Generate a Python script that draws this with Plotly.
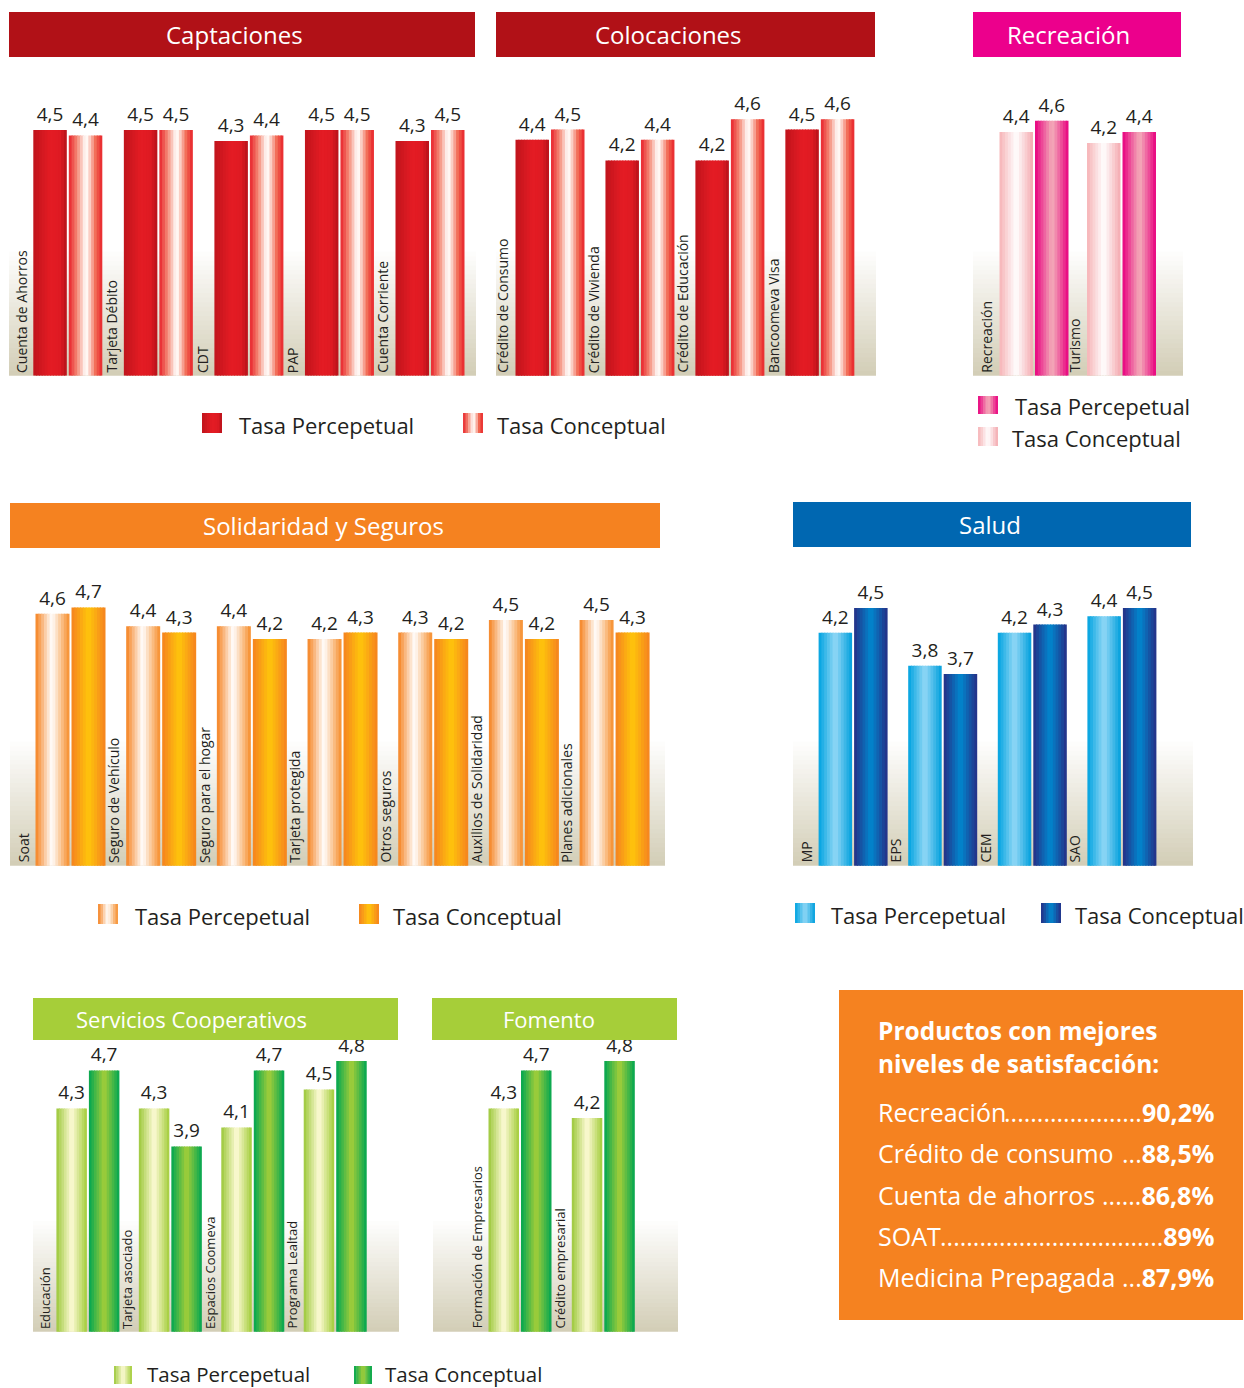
import plotly.graph_objects as go

W, H = 1244, 1388
FONT = "Open Sans"

# ---------------- data ----------------
capt_cats = ["Cuenta de Ahorros", "Tarjeta Débito", "CDT", "PAP", "Cuenta Corriente"]
capt_perc = [4.5, 4.5, 4.3, 4.5, 4.3]
capt_conc = [4.4, 4.5, 4.4, 4.5, 4.5]

coloc_cats = ["Crédito de Consumo", "Crédito de Vivienda", "Crédito de Educación", "Bancoomeva Visa"]
coloc_perc = [4.4, 4.2, 4.2, 4.5]
coloc_conc = [4.5, 4.4, 4.6, 4.6]

recre_cats = ["Recreación", "Turismo"]
recre_conc = [4.4, 4.2]
recre_perc = [4.6, 4.4]

solid_cats = ["Soat", "Seguro de Vehículo", "Seguro para el hogar", "Tarjeta protegida",
              "Otros seguros", "Auxilios de Solidaridad", "Planes adicionales"]
solid_perc = [4.6, 4.4, 4.4, 4.2, 4.3, 4.5, 4.5]
solid_conc = [4.7, 4.3, 4.2, 4.3, 4.2, 4.2, 4.3]

salud_cats = ["MP", "EPS", "CEM", "SAO"]
salud_perc = [4.2, 3.8, 4.2, 4.4]
salud_conc = [4.5, 3.7, 4.3, 4.5]

serv_cats = ["Educación", "Tarjeta asociado", "Espacios Coomeva", "Programa Lealtad"]
serv_perc = [4.3, 4.3, 4.1, 4.5]
serv_conc = [4.7, 3.9, 4.7, 4.8]

fom_cats = ["Formación de Empresarios", "Crédito empresarial"]
fom_perc = [4.3, 4.2]
fom_conc = [4.7, 4.8]

legend_perc = "Tasa Percepetual"
legend_conc = "Tasa Conceptual"

box_title = ["Productos con mejores", "niveles de satisfacción:"]
box_items = ["Recreación", "Crédito de consumo", "Cuenta de ahorros", "SOAT", "Medicina Prepagada"]
box_values = ["90,2%", "88,5%", "86,8%", "89%", "87,9%"]

# ---------------- styles ----------------
RED_SOLID = [(0, '#C0141C'), (0.5, '#E41C24'), (0.8, '#DE1A22'), (1, '#B5121B')]
RED_WHITE = [(0, '#E8222A'), (0.25, '#F48A76'), (0.5, '#FFFFFF'), (0.56, '#FFF3EE'), (0.8, '#F26A54'), (1, '#E8222A')]
MAGENTA = [(0, '#E8007F'), (0.45, '#F29CB3'), (0.55, '#F3A4B6'), (1, '#E8007F')]
PINK_LIGHT = [(0, '#F6B3B6'), (0.5, '#FFFFFF'), (1, '#F4A9AF')]
ORANGE_WHITE = [(0, '#F58220'), (0.48, '#FFFFFF'), (1, '#F68D2A')]
ORANGE_YELLOW = [(0, '#F58220'), (0.5, '#FFC60B'), (1, '#F58220')]
BLUE_LIGHT = [(0, '#00A3E0'), (0.5, '#92D8F6'), (1, '#009FDD')]
BLUE_DARK = [(0, '#262E86'), (0.5, '#0089CF'), (1, '#262E86')]
GREEN_LIGHT = [(0, '#9CC83A'), (0.5, '#FFFBD8'), (1, '#A2CC39')]
GREEN_DARK = [(0, '#00A651'), (0.5, '#A6CE39'), (1, '#00A651')]
BEIGE = '#D3CEB7'
TXT = '#231F20'


def hex2rgb(h):
    h = h.lstrip('#')
    return tuple(int(h[i:i + 2], 16) for i in (0, 2, 4))


def lerp(c0, c1, u):
    a, b = hex2rgb(c0), hex2rgb(c1)
    return 'rgb(%d,%d,%d)' % tuple(round(a[i] + (b[i] - a[i]) * u) for i in range(3))


def sample(stops, t):
    for (t0, c0), (t1, c1) in zip(stops, stops[1:]):
        if t <= t1:
            u = 0 if t1 == t0 else (t - t0) / (t1 - t0)
            return lerp(c0, c1, u)
    return lerp(stops[-1][1], stops[-1][1], 0)


panels = [
    dict(title="Captaciones", tcolor="#B11117", tb=(9, 12, 475, 57), tx=234, tsize=24,
         area=(9, 85, 476, 375.7), gtop=247, c0=67.8, d=90.55, w=33.5, g=2, base=0, s=54.6, lab=14,
         cats=capt_cats, series=[(capt_perc, RED_SOLID), (capt_conc, RED_WHITE)]),
    dict(title="Colocaciones", tcolor="#B11117", tb=(496, 12, 875, 57), tx=668, tsize=24,
         area=(496, 85, 876, 375.7), gtop=247, c0=550, d=89.95, w=33.5, g=2, base=2.11, s=103, lab=14,
         cats=coloc_cats, series=[(coloc_perc, RED_SOLID), (coloc_conc, RED_WHITE)]),
    dict(title="Recreación", tcolor="#EC008C", tb=(973, 12, 1181, 57), tx=1068, tsize=24,
         area=(973, 85, 1183, 375.7), gtop=247, c0=1034, d=87.5, w=33.5, g=2, base=0, s=55.4, lab=14,
         cats=recre_cats, series=[(recre_conc, PINK_LIGHT), (recre_perc, MAGENTA)]),
    dict(title="Solidaridad y Seguros", tcolor="#F58220", tb=(10, 503, 660, 548), tx=323, tsize=24,
         area=(10, 570, 665, 865.7), gtop=737, c0=70.5, d=90.68, w=34, g=2, base=0.6, s=63, lab=14,
         cats=solid_cats, series=[(solid_perc, ORANGE_WHITE), (solid_conc, ORANGE_YELLOW)]),
    dict(title="Salud", tcolor="#0067B1", tb=(793, 502, 1191, 547), tx=990, tsize=24,
         area=(793, 570, 1193, 865.7), gtop=737, c0=853.1, d=89.6, w=33.5, g=2, base=1.37, s=82.3, lab=14,
         cats=salud_cats, series=[(salud_perc, BLUE_LIGHT), (salud_conc, BLUE_DARK)]),
    dict(title="Servicios Cooperativos", tcolor="#A6CE39", tb=(33, 998, 398, 1040), tx=191, tsize=22,
         area=(33, 1042, 399, 1331.7), gtop=1217, c0=87.9, d=82.44, w=30.5, g=2, base=1.95, s=95, lab=13,
         cats=serv_cats, series=[(serv_perc, GREEN_LIGHT), (serv_conc, GREEN_DARK)]),
    dict(title="Fomento", tcolor="#A6CE39", tb=(432, 998, 677, 1040), tx=549, tsize=22,
         area=(433, 1042, 678, 1331.7), gtop=1217, c0=520, d=83.3, w=30.5, g=2, base=1.95, s=95, lab=13,
         cats=fom_cats, series=[(fom_perc, GREEN_LIGHT), (fom_conc, GREEN_DARK)]),
]

# (swatch box px, gradient, text x, text y, label, font size)
legends = [
    [((202, 413, 222, 433), RED_SOLID, 237, 425, legend_perc, 22), ((463, 413, 483, 433), RED_WHITE, 495, 425, legend_conc, 22)],
    [((978, 396, 998, 414), MAGENTA, 1013, 406, legend_perc, 22), ((978, 427, 998, 446), PINK_LIGHT, 1010, 438, legend_conc, 22)],
    [((98, 904, 118, 924), ORANGE_WHITE, 133, 916, legend_perc, 22), ((359, 904, 379, 924), ORANGE_YELLOW, 391, 916, legend_conc, 22)],
    [((795, 903, 815, 923), BLUE_LIGHT, 829, 915, legend_perc, 22), ((1041, 903, 1061, 923), BLUE_DARK, 1073, 915, legend_conc, 22)],
    [((114, 1366, 132, 1384), GREEN_LIGHT, 145, 1374, legend_perc, 20.5), ((354, 1366, 372, 1384), GREEN_DARK, 383, 1374, legend_conc, 20.5)],
]

K = 12
fig = go.Figure()
shapes, annos = [], []
layout_axes = {}

for n, p in enumerate(panels, start=1):
    sfx = '' if n == 1 else str(n)
    xa, ya = 'x' + sfx, 'y' + sfx
    L, T, R, B = p['area']
    c0, d, w, g = p['c0'], p['d'], p['w'], p['g']
    layout_axes['xaxis' + sfx] = dict(domain=[L / W, R / W], range=[(L - c0) / d, (R - c0) / d],
                                      visible=False, fixedrange=True, anchor=ya)
    layout_axes['yaxis' + sfx] = dict(domain=[1 - B / H, 1 - T / H],
                                      range=[p['base'], p['base'] + (B - T) / p['s']],
                                      visible=False, fixedrange=True, anchor=xa)
    bw = w / d
    offs = [-(w + g / 2) / d, (g / 2) / d]
    xpos = list(range(len(p['cats'])))
    for (vals, prof), off in zip(p['series'], offs):
        sw = bw / K
        for k in range(K):
            fig.add_bar(x=xpos, y=vals, offset=off + k * sw, width=sw * (1.4 if k < K - 1 else 1.0),
                        marker=dict(color=sample(prof, (k + 0.5) / K), line=dict(width=0)),
                        xaxis=xa, yaxis=ya, hoverinfo='skip')
        fig.add_bar(x=xpos, y=vals, offset=off, width=bw,
                    marker=dict(color='rgba(0,0,0,0)', line=dict(width=0)),
                    texttemplate='%{y:.1f}', textposition='outside', constraintext='none',
                    textfont=dict(size=19, color=TXT, family=FONT), cliponaxis=False,
                    xaxis=xa, yaxis=ya, hoverinfo='skip')
    for i, cat in enumerate(p['cats']):
        annos.append(dict(x=i + offs[0], xref=xa, y=0, yref=ya + ' domain', text=cat, textangle=-90,
                          xanchor='right', yanchor='bottom', showarrow=False, xshift=-1, yshift=1,
                          font=dict(size=p['lab'], color=TXT, family=FONT)))
    # background gradient
    f = (B - p['gtop']) / (B - T)
    N = 28
    for j in range(N):
        shapes.append(dict(type='rect', xref=xa + ' domain', yref=ya + ' domain', x0=0, x1=1,
                           y0=f * j / N, y1=min(f * (j + 1) / N + 0.004, f),
                           fillcolor=lerp(BEIGE, '#FFFFFF', j / (N - 1)), line=dict(width=0), layer='below'))
    # title bar
    tx0, ty0, tx1, ty1 = p['tb']
    shapes.append(dict(type='rect', xref='paper', yref='paper', x0=tx0 / W, x1=tx1 / W,
                       y0=1 - ty1 / H, y1=1 - ty0 / H, fillcolor=p['tcolor'], line=dict(width=0)))
    annos.append(dict(x=p['tx'] / W, y=1 - (ty0 + ty1) / 2 / H, xref='paper', yref='paper',
                      xanchor='center', yanchor='middle',
                      text=p['title'], showarrow=False, font=dict(size=p['tsize'], color='white', family=FONT)))

# legends
for leg in legends:
    for (sx0, sy0, sx1, sy1), prof, tx, ty, label, fs in leg:
        ns = 8
        for k in range(ns):
            a = sx0 + (sx1 - sx0) * k / ns
            b = sx0 + (sx1 - sx0) * (k + 1) / ns + (0.5 if k < ns - 1 else 0)
            shapes.append(dict(type='rect', xref='paper', yref='paper', x0=a / W, x1=b / W,
                               y0=1 - sy1 / H, y1=1 - sy0 / H, fillcolor=sample(prof, (k + 0.5) / ns),
                               line=dict(width=0)))
        annos.append(dict(x=tx / W, y=1 - ty / H, xref='paper', yref='paper', text=label,
                          xanchor='left', yanchor='middle', showarrow=False,
                          font=dict(size=fs, color=TXT, family=FONT)))

# info box
ORANGE = '#F58220'
shapes.append(dict(type='rect', xref='paper', yref='paper', x0=839 / W, x1=1243 / W,
                   y0=1 - 1320 / H, y1=1 - 990 / H, fillcolor=ORANGE, line=dict(width=0)))
for line, yy in zip(box_title, [1030, 1063]):
    annos.append(dict(x=876 / W, y=1 - yy / H, xref='paper', yref='paper', text='<b>%s</b>' % line,
                      xanchor='left', yanchor='middle', showarrow=False,
                      font=dict(size=24.5, color='white', family=FONT)))
dots_n = [21, 3, 6, 34, 3]
item_y = [1112, 1153, 1195, 1236, 1277]
for item, val, nd, yy in zip(box_items, box_values, dots_n, item_y):
    annos.append(dict(x=1216 / W, y=1 - yy / H, xref='paper', yref='paper',
                      text='.' * nd + '<b>%s</b>' % val, xanchor='right', yanchor='middle',
                      showarrow=False, font=dict(size=25, color='white', family=FONT)))
    annos.append(dict(x=876 / W, y=1 - yy / H, xref='paper', yref='paper', text=item,
                      xanchor='left', yanchor='middle', showarrow=False,
                      font=dict(size=25, color='white', family=FONT)))

fig.update_layout(
    width=W, height=H, margin=dict(l=0, r=0, t=0, b=0),
    paper_bgcolor='white', plot_bgcolor='rgba(0,0,0,0)',
    showlegend=False, barmode='overlay', separators=',.',
    font=dict(family=FONT, color=TXT),
    shapes=shapes, annotations=annos, **layout_axes)

fig.write_html("out.html", config=dict(displayModeBar=False, staticPlot=True),
               post_script="document.body.style.margin='0';document.body.style.overflow='hidden';")
